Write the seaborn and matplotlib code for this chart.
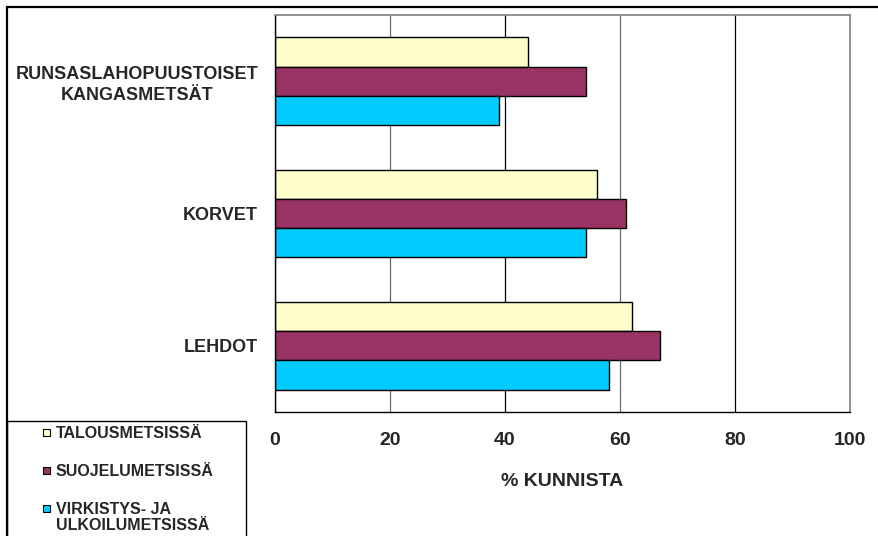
import pandas as pd
import matplotlib.pyplot as plt
import seaborn as sns
from matplotlib.patches import Rectangle
from matplotlib.lines import Line2D

# data
habitats = ['RUNSASLAHOPUUSTOISET\nKANGASMETSÄT', 'KORVET', 'LEHDOT']
series = ['TALOUSMETSISSÄ', 'SUOJELUMETSISSÄ', 'VIRKISTYS- JA\nULKOILUMETSISSÄ']
talous = [44, 56, 62]
suojelu = [54, 61, 67]
virkistys = [39, 54, 58]
colors = ['#FFFFCC', '#993366', '#00CCFF']
xticks = [0, 20, 40, 60, 80, 100]

df = pd.DataFrame({
    'habitat': habitats * 3,
    'series': [series[0]] * 3 + [series[1]] * 3 + [series[2]] * 3,
    'value': talous + suojelu + virkistys,
})

sns.set_style('white')
plt.rcParams['font.family'] = ['Liberation Sans', 'DejaVu Sans']
plt.rcParams['font.weight'] = 'bold'

W, H = 879, 536
fig = plt.figure(figsize=(W / 100, H / 100), dpi=100)
ax = fig.add_axes([275 / W, 1 - 412 / H, 575 / W, (412 - 15) / H])

sns.barplot(data=df, y='habitat', x='value', hue='series', order=habitats,
            hue_order=series, palette=colors, orient='h', width=0.66,
            edgecolor='black', linewidth=1, saturation=1, legend=False, ax=ax)

ax.set_xlim(0, 100)
ax.set_xticks(xticks)
ax.set_xticklabels([str(t) for t in xticks], fontsize=14, fontweight='bold')
ax.xaxis.grid(True, color='black', linewidth=0.9)
ax.set_axisbelow(True)
# the scanned original shows every other gridline a little lighter
for i, gl in enumerate(ax.get_xgridlines()):
    gl.set_color('black' if i % 2 == 0 else '#6b6b6b')
ax.tick_params(axis='x', direction='out', length=3.6, width=1, pad=11, color='black')

ax.set_yticks(range(len(habitats)))
ax.set_yticklabels(habitats, fontsize=13, fontweight='bold',
                   multialignment='center', linespacing=1.3)
ax.set_yticks([-0.5, 0.5, 1.5, 2.5], minor=True)
ax.tick_params(axis='y', which='major', length=0, pad=12.2)
ax.tick_params(axis='y', which='minor', direction='out', length=4.5, width=1, color='black')

ax.set_ylabel('')
ax.set_xlabel('% KUNNISTA', fontsize=14, fontweight='bold', labelpad=17)

for side in ['left', 'bottom']:
    ax.spines[side].set_color('black')
    ax.spines[side].set_linewidth(1)
for side in ['top', 'right']:
    ax.spines[side].set_visible(True)
    ax.spines[side].set_color('#808080')
    ax.spines[side].set_linewidth(1.2)


def px(x, y):
    return x / W, 1 - y / H


# outer chart frame (runs off the right and bottom edges)
fig.add_artist(Line2D([px(7, 7)[0], 1.0], [px(7, 7)[1]] * 2,
                      color='black', linewidth=1.6))
fig.add_artist(Line2D([px(7, 7)[0]] * 2, [px(7, 7)[1], 0.0],
                      color='black', linewidth=1.6))

# legend box
fig.add_artist(Rectangle(px(7, 540), 239 / W, 119 / H, facecolor='white',
                         edgecolor='black', linewidth=1, clip_on=False))
rows = [432.5, 470.5, 508.5]
for label, col, yy in zip(series, colors, rows):
    sx, sy = px(43, yy + 3.5)
    fig.add_artist(Rectangle((sx, sy), 7 / W, 7 / H, facecolor=col,
                             edgecolor='black', linewidth=0.8))
    tx, ty = px(56, yy - 7)
    fig.text(tx, ty, label, fontsize=11.5, fontweight='bold', va='top',
             ha='left', linespacing=1.1)

fig.savefig('out.png', dpi=100)
